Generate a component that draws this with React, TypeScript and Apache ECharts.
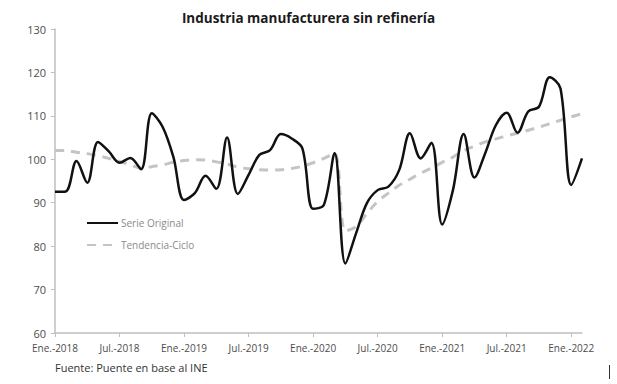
import React, { useEffect, useRef } from "react";
import * as echarts from "echarts";

const monthNames = ["Ene.", "Feb.", "Mar.", "Abr.", "May.", "Jun.", "Jul.", "Ago.", "Sep.", "Oct.", "Nov.", "Dic."];
const years = [2018, 2019, 2020, 2021, 2022];
const categories: string[] = [];
for (const y of years) for (const m of monthNames) categories.push(`${m}-${y}`);
const months = categories.slice(0, 50);

const serieOriginal = [
  92.5, 92.6, 99.6, 94.6, 104.0, 101.8, 99.2, 100.3, 97.7, 110.6, 107.5, 100.6,
  90.6, 92.2, 96.2, 93.2, 105.0, 92.0, 96.4, 101.0, 102.1, 105.8, 104.8, 102.5,
  88.6, 89.5, 101.4, 76.0, 83.0, 89.9, 92.9, 93.7, 97.5, 106.0, 100.2, 103.8,
  85.0, 92.9, 105.8, 95.8, 101.4, 107.9, 110.7, 106.1, 111.0, 112.1, 118.9, 116.3,
  94.1, 100.2,
];

const tendenciaCiclo = [
  102.0, 102.0, 101.6, 101.3, 100.8, 100.2, 99.5, 98.7, 98.0, 98.3, 98.7, 99.3,
  99.7, 99.9, 99.8, 99.4, 98.9, 98.2, 97.8, 97.6, 97.5, 97.6, 97.9, 98.4,
  99.2, 100.2, 101.4, 83.5, 84.5, 87.5, 90.3, 92.2, 94.0, 95.4, 96.8, 98.0,
  99.3, 100.5, 102.0, 103.0, 104.0, 104.7, 105.4, 106.0, 106.7, 107.4, 108.2, 109.0,
  109.8, 110.5,
];

const title = "Industria manufacturera sin refinería";
const footer = "Fuente: Puente en base al INE";

export default function App() {
  const ref = useRef<HTMLDivElement>(null);
  useEffect(() => {
    if (!ref.current) return;
    const chart = echarts.init(ref.current, null, { renderer: "svg" });
    const font = "'Open Sans', sans-serif";
    chart.setOption({
      animation: false,
      backgroundColor: "#ffffff",
      title: {
        text: title,
        left: "center",
        top: 6,
        textStyle: { fontFamily: font, fontSize: 13.5, fontWeight: "bold", color: "#1a1a1a" },
      },
      legend: {
        orient: "vertical",
        left: 81,
        top: 213,
        itemWidth: 31,
        itemHeight: 12,
        itemGap: 12,
        itemStyle: { opacity: 0 },
        textStyle: { fontFamily: font, fontSize: 10, color: "#8a8a8a", padding: [0, 0, 0, -2] },
        data: ["Serie Original", "Tendencia-Ciclo"],
      },
      grid: { left: 55, right: 35, top: 29, bottom: 51, containLabel: false },
      xAxis: {
        type: "category",
        data: months,
        boundaryGap: false,
        axisLine: { lineStyle: { color: "#bfbfbf", width: 1.5 } },
        axisTick: { interval: 5, length: 4, lineStyle: { color: "#bfbfbf" } },
        axisLabel: {
          interval: 5,
          fontFamily: font,
          fontSize: 10,
          color: "#4d4d4d",
          margin: 10,
        },
        splitLine: { show: false },
      },
      yAxis: {
        type: "value",
        min: 60,
        max: 130,
        interval: 10,
        axisLine: { show: true, lineStyle: { color: "#bfbfbf", width: 1.5 } },
        axisTick: { show: true, length: 4, lineStyle: { color: "#bfbfbf" } },
        axisLabel: { fontFamily: font, fontSize: 11, color: "#4d4d4d", margin: 9 },
        splitLine: { show: false },
      },
      series: [
        {
          name: "Serie Original",
          type: "line",
          data: serieOriginal,
          smooth: 0.35,
          showSymbol: false,
          symbol: "none",
          lineStyle: { color: "#111111", width: 2.5 },
          itemStyle: { color: "#111111" },
          z: 3,
        },
        {
          name: "Tendencia-Ciclo",
          type: "line",
          data: tendenciaCiclo,
          smooth: 0.35,
          showSymbol: false,
          symbol: "none",
          lineStyle: { color: "#c4c4c4", width: 3, type: [9, 7] },
          itemStyle: { color: "#c4c4c4" },
          z: 2,
        },
      ],
      graphic: [
        {
          type: "text",
          left: 55,
          top: 362,
          style: { text: footer, fontFamily: font, fontSize: 11, fill: "#333333" },
        },
        {
          type: "line",
          shape: { x1: 609.5, y1: 365, x2: 609.5, y2: 379 },
          style: { stroke: "#333333", lineWidth: 1 },
        },
      ],
    });
    return () => chart.dispose();
  }, []);
  return <div ref={ref} style={{ width: 617, height: 384, position: "absolute", left: 0, top: 0 }} />;
}
